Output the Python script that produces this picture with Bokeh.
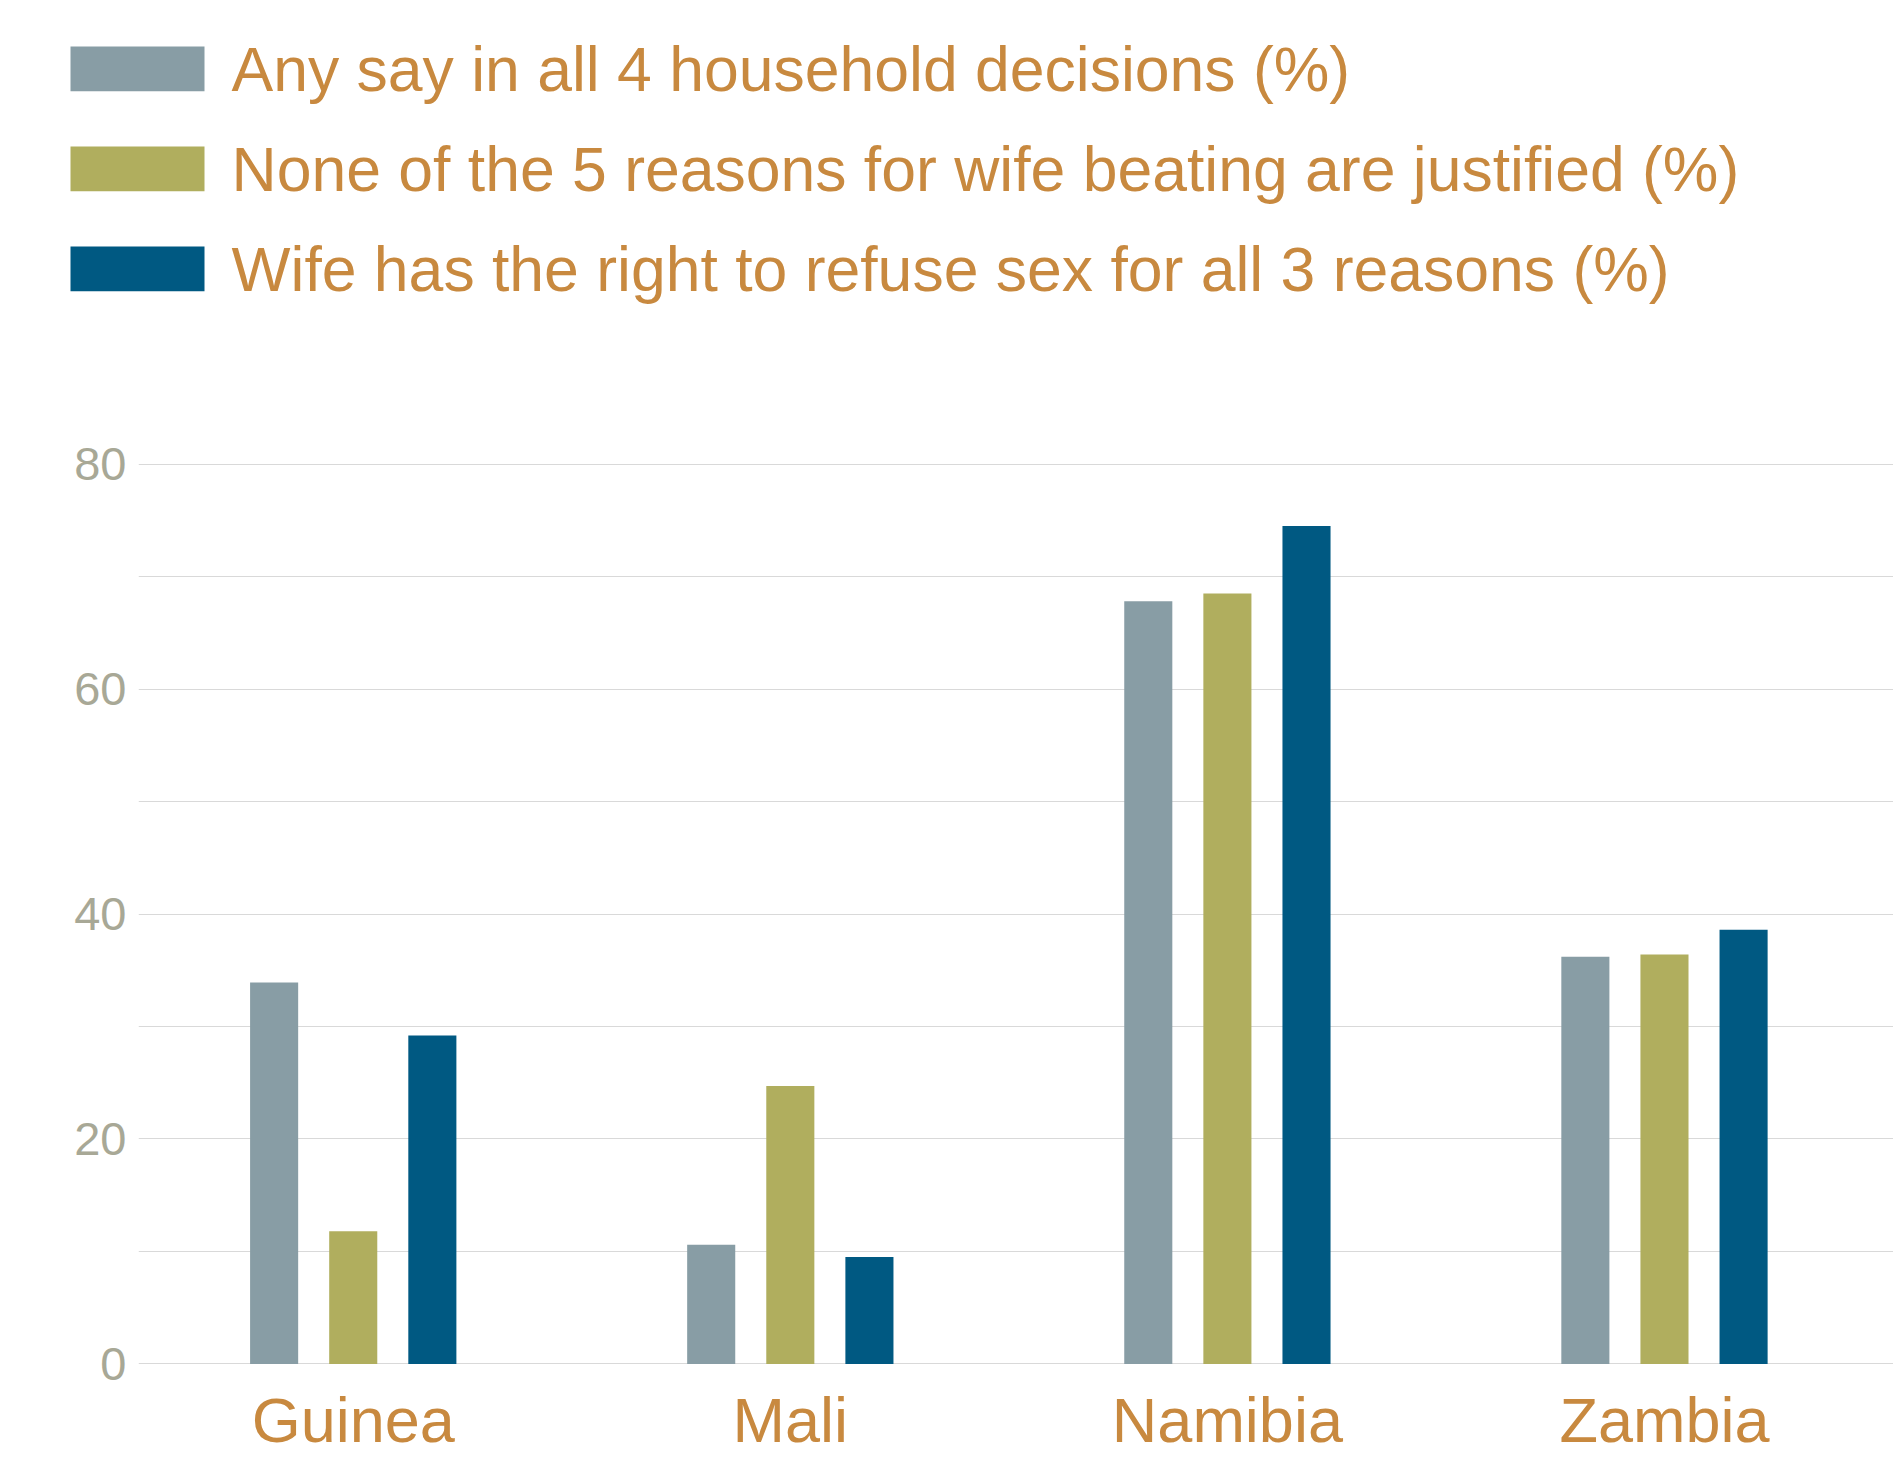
from bokeh.plotting import figure
from bokeh.models import Range1d, FixedTicker, ColumnDataSource
from bokeh.transform import dodge
from bokeh.core.properties import value
from bokeh.embed import file_html
from bokeh.resources import INLINE
import numpy as np

# ---------------- data ----------------
categories = ["Guinea", "Mali", "Namibia", "Zambia"]
series_names = [
    "Any say in all 4 household decisions (%)",
    "None of the 5 reasons for wife beating are justified (%)",
    "Wife has the right to refuse sex for all 3 reasons (%)",
]
any_say = [33.9, 10.6, 67.8, 36.2]
no_beating = [11.8, 24.7, 68.5, 36.4]
refuse_sex = [29.2, 9.5, 74.5, 38.6]
y_ticks = [0, 20, 40, 60, 80]
y_minor = [10, 30, 50, 70]

colors = ["#889DA5", "#B0AE5E", "#005982"]
text_orange = "#C8893F"
tick_gray = "#A8A896"
grid_gray = "#D9D9D9"
FONT = "Liberation Sans"

W, H = 1893, 1459
LEG_H = 320
CHART_H = H - LEG_H
FRAME_TOP = 458
BOTTOM, LEFT = 90, 138

# ---------------- legend strip (its own root, pixel coordinates) ----------------
leg = figure(width=W, height=LEG_H, x_range=Range1d(0, W), y_range=Range1d(LEG_H, 0),
             x_axis_type=None, y_axis_type=None, toolbar_location=None,
             output_backend="svg", min_border=0)
leg.outline_line_color = None
leg.grid.visible = False
leg.border_fill_color = "white"

n = len(series_names)
sw_top = [46 + 100 * i for i in range(n)]
sw_h = 44.7
leg.quad(left=[70] * n, right=[204] * n, top=sw_top, bottom=[t + sw_h for t in sw_top],
         fill_color=colors, line_color=None)
leg.text(x=[231] * n, y=[t + sw_h / 2 for t in sw_top], text=series_names, text_font=value(FONT),
         text_font_size="62.5px", text_color=text_orange, text_baseline="middle",
         text_align="left")

# ---------------- bar chart ----------------
p = figure(width=W, height=CHART_H, x_range=Range1d(-0.4913, 3.524), y_range=Range1d(-0.5, 80.5),
           toolbar_location=None, output_backend="svg",
           min_border_left=LEFT, min_border_right=0, min_border_top=FRAME_TOP - LEG_H,
           min_border_bottom=BOTTOM)
p.outline_line_color = None
p.background_fill_color = "white"
p.border_fill_color = "white"

src = ColumnDataSource(dict(x=np.arange(len(categories)), a=any_say, b=no_beating, c=refuse_sex))
off = 0.181
bw = 0.11
for col, dx, c in zip(["a", "b", "c"], [-off, 0, off], colors):
    p.vbar(x=dodge("x", dx, range=p.x_range), top=col, bottom=0, width=bw, source=src,
           fill_color=c, line_color=None)

p.xgrid.visible = False
p.yaxis.ticker = FixedTicker(ticks=y_ticks, minor_ticks=y_minor)
p.ygrid.grid_line_color = grid_gray
p.ygrid.grid_line_width = 1.2
p.ygrid.minor_grid_line_color = grid_gray
p.ygrid.minor_grid_line_width = 1.2

p.yaxis.axis_line_color = None
p.yaxis.major_tick_line_color = None
p.yaxis.minor_tick_line_color = None
p.yaxis.major_tick_out = 0
p.yaxis.minor_tick_out = 0
p.yaxis.major_label_text_font = FONT
p.yaxis.major_label_text_font_size = "47px"
p.yaxis.major_label_text_color = tick_gray
p.yaxis.major_label_standoff = 12

p.xaxis.ticker = FixedTicker(ticks=list(range(len(categories))))
p.xaxis.major_label_overrides = {i: name for i, name in enumerate(categories)}
p.xaxis.axis_line_color = None
p.xaxis.major_tick_line_color = None
p.xaxis.minor_tick_line_color = None
p.xaxis.major_tick_out = 0
p.xaxis.minor_tick_out = 0
p.xaxis.major_label_text_font = FONT
p.xaxis.major_label_text_font_size = "63px"
p.xaxis.major_label_text_color = text_orange
p.xaxis.major_label_standoff = 15

open("out.html", "w").write(file_html([leg, p], INLINE))
